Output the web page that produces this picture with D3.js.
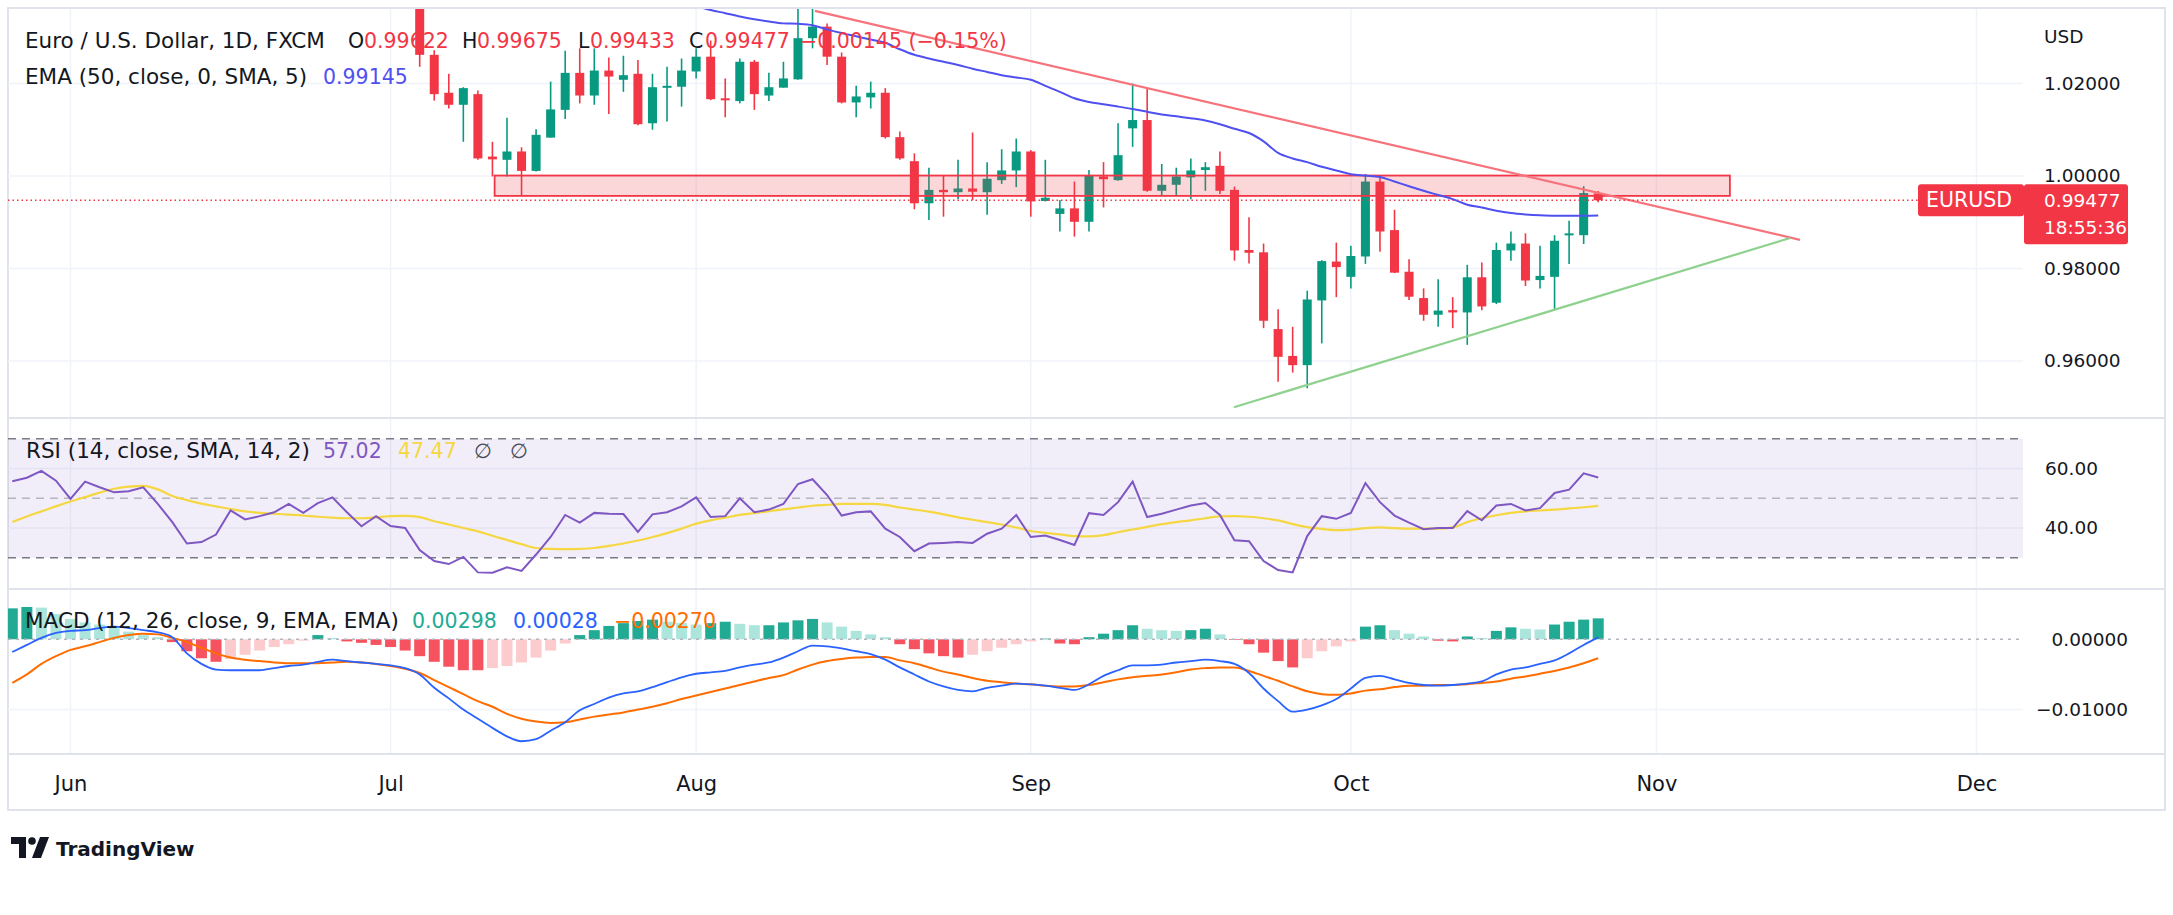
<!DOCTYPE html>
<html><head><meta charset="utf-8">
<script src="https://cdn.jsdelivr.net/npm/d3@7"></script>
<style>
html,body{margin:0;padding:0;background:#ffffff;}
svg{display:block;font-family:"DejaVu Sans",sans-serif;}
</style></head><body>
<svg id="chart" width="2173" height="915"></svg>
<script>
// ---------------- DATA ----------------
const monthLabels = ["Jun","Jul","Aug","Sep","Oct","Nov","Dec"];
const monthIndex  = [0,22,43,66,88,109,131];          // trading-day index of each month start (Jun 1 = 0)
const priceTicks  = [1.02,1.00,0.98,0.96];
const rsiTicks    = [60,40];
const rsiBands    = [70,50,30];
const macdTicks   = [0,-0.01];

const candleStart = 24; // Jul 5
const openP  = [1.0420,1.0262,1.0180,1.0154,1.0177,1.0042,1.0035,1.0053,1.0011,1.0083,1.0143,1.0223,1.0174,1.0228,1.0208,1.0221,1.0114,1.0192,1.0193,1.0226,
                1.0258,1.0168,1.0162,1.0247,1.0174,1.0191,1.0209,1.0298,1.0323,1.0258,1.0159,1.0170,1.0180,1.0084,1.0032,0.9941,0.9970,0.9965,0.9973,0.9965,
                0.9991,1.0012,1.0053,0.9946,0.9918,0.9930,0.9901,0.9999,0.9991,1.0103,1.0121,0.9968,0.9981,0.9997,1.0013,1.0022,0.9970,0.9840,0.9835,0.9669,
                0.9611,0.9591,0.9731,0.9815,0.9782,0.9826,0.9988,0.9883,0.9793,0.9736,0.9700,0.9710,0.9705,0.9781,0.9726,0.9839,0.9854,0.9775,0.9782,0.9872,
                0.9872,0.99622];
const highP  = [1.0444,1.0272,1.0221,1.0192,1.0185,1.0074,1.0126,1.0062,1.0101,1.0204,1.0271,1.0276,1.0276,1.0256,1.0260,1.0251,1.0221,1.0236,1.0254,1.0276,
                1.0293,1.0211,1.0254,1.0251,1.0223,1.0247,1.0368,1.0368,1.0330,1.0267,1.0195,1.0204,1.0190,1.0096,1.0049,1.0018,1.0000,1.0035,1.0094,1.0030,
                1.0058,1.0081,1.0056,1.0035,0.9948,0.9988,1.0013,1.0030,1.0114,1.0200,1.0190,1.0026,1.0018,1.0038,1.0030,1.0053,0.9977,0.9911,0.9854,0.9712,
                0.9674,0.9752,0.9818,0.9856,0.9849,1.0004,1.0002,0.9927,0.9820,0.9757,0.9777,0.9738,0.9808,0.9813,0.9856,0.9880,0.9876,0.9849,0.9872,0.9903,
                0.9978,0.99675];
const lowP   = [1.0236,1.0163,1.0146,1.0074,1.0035,0.9999,0.9999,0.9957,1.0010,1.0083,1.0123,1.0157,1.0154,1.0134,1.0182,1.0110,1.0100,1.0118,1.0150,1.0211,
                1.0164,1.0127,1.0157,1.0143,1.0162,1.0191,1.0208,1.0276,1.0240,1.0157,1.0127,1.0146,1.0081,1.0035,0.9928,0.9905,0.9912,0.9950,0.9948,0.9916,
                0.9983,0.9976,0.9912,0.9945,0.9880,0.9869,0.9880,0.9932,0.9990,1.0063,0.9966,0.9959,0.9959,0.9950,0.9968,0.9961,0.9817,0.9811,0.9671,0.9555,
                0.9575,0.9541,0.9638,0.9738,0.9757,0.9810,0.9836,0.9790,0.9732,0.9687,0.9674,0.9671,0.9635,0.9710,0.9723,0.9817,0.9762,0.9757,0.9712,0.9810,
                0.9853,0.99433];
const closeP = [1.0262,1.0177,1.0154,1.0190,1.0038,1.0036,1.0053,1.0011,1.0089,1.0144,1.0223,1.0174,1.0228,1.0215,1.0218,1.0112,1.0192,1.0195,1.0228,1.0258,
                1.0166,1.0164,1.0247,1.0177,1.0192,1.0211,1.0298,1.0323,1.0258,1.0159,1.0172,1.0180,1.0084,1.0038,0.9941,0.9970,0.9965,0.9973,0.9966,0.9994,
                1.0012,1.0053,0.9945,0.9953,0.9930,0.9901,1.0002,0.9993,1.0045,1.0121,0.9968,0.9981,0.9999,1.0012,1.0019,0.9968,0.9839,0.9834,0.9687,0.9609,
                0.9591,0.9733,0.9816,0.9803,0.9827,0.9988,0.9880,0.9791,0.9739,0.9700,0.9709,0.9705,0.9781,0.9718,0.9840,0.9854,0.9774,0.9784,0.9860,0.9876,
                0.9963,0.99477];

const emaStart = 42;
const ema50 = [1.0375,1.0367,1.0359,1.0352,1.0345,1.0339,1.0334,1.0330,1.0329,1.0326,1.0317,1.0309,1.0302,1.0295,1.0288,1.0274,1.0262,1.0254,1.0247,1.0240,
               1.0232,1.0225,1.0218,1.0213,1.0208,1.0195,1.0182,1.0168,1.0160,1.0155,1.0150,1.0145,1.0139,1.0133,1.0129,1.0125,1.0120,1.0112,1.0102,1.0093,
               1.0075,1.0050,1.0038,1.0030,1.0020,1.0012,1.0004,1.0001,0.9998,0.9988,0.9978,0.9968,0.9959,0.9950,0.9938,0.9932,0.9925,0.9920,0.9917,0.9915,
               0.9914,0.9914,0.9914,0.99145];

const zoneBox    = {i0:29.15, i1:114.05, top:1.0001, bottom:0.9957};
const resistance = [[51.16,1.0357],[118.87,0.9862]];
const support    = [[79.96,0.9500],[118.2,0.9866]];

const indStart = -4;
const rsi = [55.7,56.9,59.2,55.9,
  49.8,55.6,53.7,52.0,52.4,53.7,48.1,42.0,34.8,35.3,
  37.8,45.9,42.9,44.0,45.3,48.1,45.1,48.4,50.3,45.3,
  40.6,44.0,40.7,40.0,32.6,28.9,27.9,30.3,25.1,25.0,
  26.8,25.6,31.1,37.0,44.4,41.8,45.1,44.8,44.7,38.7,
  44.6,45.3,47.3,50.3,43.7,44.0,50.0,45.3,46.2,48.1,
  54.8,56.4,51.1,44.2,45.3,45.6,39.8,37.0,32.2,34.8,
  35.0,35.3,35.0,38.1,39.8,44.4,37.0,37.5,36.0,34.3,
  45.0,44.4,48.7,55.6,43.7,44.8,46.2,47.6,48.4,44.4,
  35.9,35.6,28.9,25.9,25.1,37.3,44.0,43.1,45.1,55.1,
  48.7,44.2,41.8,39.6,40.0,40.0,45.7,42.6,47.6,48.1,
  45.9,46.7,51.8,52.9,58.4,57.02];
const rsiSma = [42.0,43.9,45.6,47.3,
  48.9,50.4,51.9,53.2,53.9,54.2,53.0,50.8,49.4,48.2,
  47.3,46.4,45.6,45.1,44.8,44.5,44.2,43.8,43.5,43.3,
  43.3,43.6,44.0,44.1,43.7,42.3,41.2,40.0,38.9,37.4,
  36.0,34.6,33.3,33.0,32.9,33.0,33.3,34.0,34.8,35.8,
  37.0,38.3,39.8,41.5,42.6,43.5,44.4,45.0,45.7,46.3,
  46.9,47.5,47.8,48.1,48.1,48.1,47.8,46.9,46.2,45.5,
  44.6,43.6,42.8,42.0,41.2,40.2,39.0,38.4,37.9,37.3,
  37.2,37.6,38.6,39.5,40.4,41.3,42.0,42.6,43.3,43.9,
  44.0,43.8,43.3,42.6,41.3,40.3,39.7,39.3,39.5,40.0,
  40.2,40.0,39.8,39.8,39.8,40.2,42.0,43.3,44.3,45.1,
  45.6,45.9,46.2,46.6,47.0,47.47];
const macdLine = [-0.0018,-0.0008,0.0002,0.0009,
  0.0012,0.0013,0.0016,0.0018,0.0016,0.0013,0.0010,0.0003,-0.0020,-0.0035,
  -0.0043,-0.0044,-0.0044,-0.0044,-0.0041,-0.0038,-0.0036,-0.0032,-0.0029,-0.0031,
  -0.0033,-0.0035,-0.0037,-0.0041,-0.0050,-0.0069,-0.0084,-0.0100,-0.0113,-0.0126,
  -0.0138,-0.0145,-0.0142,-0.0130,-0.0118,-0.0101,-0.0092,-0.0083,-0.0077,-0.0074,
  -0.0068,-0.0061,-0.0054,-0.0049,-0.0047,-0.0045,-0.0040,-0.0036,-0.0033,-0.0026,
  -0.0017,-0.0009,-0.0010,-0.0013,-0.0017,-0.0021,-0.0029,-0.0040,-0.0050,-0.0060,
  -0.0067,-0.0072,-0.0074,-0.0069,-0.0066,-0.0063,-0.0064,-0.0066,-0.0069,-0.0072,
  -0.0064,-0.0052,-0.0044,-0.0037,-0.0037,-0.0036,-0.0033,-0.0031,-0.0029,-0.0031,
  -0.0035,-0.0048,-0.0070,-0.0088,-0.0103,-0.0100,-0.0094,-0.0085,-0.0070,-0.0055,
  -0.0052,-0.0057,-0.0062,-0.0065,-0.0066,-0.0065,-0.0063,-0.0060,-0.0050,-0.0043,
  -0.0040,-0.0035,-0.0030,-0.0020,-0.0008,0.00028];
const signalLine = [-0.0062,-0.0050,-0.0035,-0.0024,
  -0.0015,-0.0010,-0.0004,0.0002,0.0006,0.0008,0.0007,0.0002,-0.0004,-0.0012,
  -0.0020,-0.0026,-0.0029,-0.0031,-0.0033,-0.0034,-0.0034,-0.0034,-0.0033,-0.0032,
  -0.0033,-0.0035,-0.0038,-0.0042,-0.0048,-0.0058,-0.0068,-0.0078,-0.0088,-0.0096,
  -0.0106,-0.0113,-0.0117,-0.0119,-0.0118,-0.0114,-0.0110,-0.0107,-0.0104,-0.0100,
  -0.0096,-0.0091,-0.0085,-0.0080,-0.0075,-0.0070,-0.0065,-0.0060,-0.0055,-0.0051,
  -0.0043,-0.0036,-0.0031,-0.0028,-0.0026,-0.0025,-0.0025,-0.0030,-0.0034,-0.0040,
  -0.0046,-0.0050,-0.0055,-0.0059,-0.0061,-0.0063,-0.0064,-0.0066,-0.0067,-0.0067,
  -0.0065,-0.0061,-0.0057,-0.0054,-0.0052,-0.0050,-0.0047,-0.0043,-0.0041,-0.0040,
  -0.0040,-0.0045,-0.0052,-0.0059,-0.0067,-0.0074,-0.0078,-0.0079,-0.0077,-0.0073,
  -0.0071,-0.0068,-0.0066,-0.0066,-0.0065,-0.0065,-0.0064,-0.0062,-0.0060,-0.0056,
  -0.0053,-0.0049,-0.0045,-0.0040,-0.0034,-0.0027];
const histogram = [0.0044,0.0046,0.0045,0.0036,
  0.0029,0.0024,0.0021,0.0017,0.0011,0.0006,0.0003,-0.0004,-0.0017,-0.0027,
  -0.0032,-0.0028,-0.0022,-0.0016,-0.0011,-0.0007,-0.0002,0.0006,0.0002,-0.0003,
  -0.0005,-0.0008,-0.0011,-0.0016,-0.0024,-0.0032,-0.0039,-0.0044,-0.0044,-0.0041,
  -0.0038,-0.0033,-0.0026,-0.0016,-0.0006,0.0006,0.0013,0.0019,0.0023,0.0026,
  0.0028,0.0025,0.0023,0.0021,0.0023,0.0025,0.0022,0.0020,0.0020,0.0024,
  0.0027,0.0029,0.0024,0.0018,0.0012,0.0007,0.0003,-0.0007,-0.0014,-0.0020,
  -0.0024,-0.0026,-0.0022,-0.0017,-0.0012,-0.0007,-0.0003,0.0001,-0.0006,-0.0007,
  0.0003,0.0008,0.0013,0.0020,0.0015,0.0013,0.0012,0.0013,0.0015,0.0007,
  -0.0001,-0.0007,-0.0019,-0.0031,-0.0040,-0.0027,-0.0017,-0.0010,-0.0003,0.0018,
  0.0020,0.0013,0.0008,0.0004,-0.0002,-0.0003,0.0004,0.0002,0.0012,0.0017,
  0.0015,0.0014,0.0021,0.0025,0.0028,0.00298];

const legendMain = {title:"Euro / U.S. Dollar, 1D, FXCM", o:"0.99622", h:"0.99675", l:"0.99433", c:"0.99477", chg:"\u22120.00145 (\u22120.15%)"};
const legendEma  = {title:"EMA (50, close, 0, SMA, 5)", v:"0.99145"};
const legendRsi  = {title:"RSI (14, close, SMA, 14, 2)", v1:"57.02", v2:"47.47"};
const legendMacd = {title:"MACD (12, 26, close, 9, EMA, EMA)", h:"0.00298", m:"0.00028", s:"\u22120.00270"};
const tagSymbol = "EURUSD", tagPrice = "0.99477", tagTime = "18:55:36";

// ---------------- LAYOUT ----------------
const C = {up:"#089981", down:"#f23645", text:"#131722", grid:"#f0f3fa", frame:"#e0e3eb",
           ema:"#5050f0", rsi:"#7e57c2", rsiSma:"#f5d742", macd:"#2962ff", sig:"#ff6d00"};
const FS_T = 21.5, FS_V = 20.5, FS_AX = 18.5, FS_TIME = 21;
const plotL = 8, plotR = 2023, frameR = 2165, frameB = 810;
const P = {top:9, bottom:417}, R = {top:419, bottom:588}, M = {top:590, bottom:753};
const svg = d3.select("#chart");

const x  = d3.scaleLinear().domain([0,131]).range([70.5,1976.5]);
const yP = d3.scaleLinear().domain([0.96,1.02]).range([361,83.5]);
const yR = d3.scaleLinear().domain([30,70]).range([557.8,438.8]);
const yM = d3.scaleLinear().domain([-0.01,0]).range([709.6,639.3]);

const defs = svg.append("defs");
[["clipP",P],["clipR",R],["clipM",M]].forEach(([id,p])=>{
  defs.append("clipPath").attr("id",id).append("rect")
    .attr("x",plotL).attr("y",p.top).attr("width",plotR-plotL).attr("height",p.bottom-p.top);
});

// frame
const frame = svg.append("g").attr("stroke",C.frame).attr("stroke-width",2).attr("fill","none");
frame.append("rect").attr("x",8).attr("y",8).attr("width",frameR-8).attr("height",frameB-8);
[418,589,754].forEach(yy=>frame.append("line").attr("x1",8).attr("x2",frameR).attr("y1",yy).attr("y2",yy));

// grids
function vgrid(p){
  svg.append("g").selectAll("line").data(monthIndex).join("line")
    .attr("x1",d=>x(d)).attr("x2",d=>x(d)).attr("y1",p.top).attr("y2",p.bottom)
    .attr("stroke",C.grid).attr("stroke-width",1.5);
}
vgrid(P); vgrid(R); vgrid(M);
svg.append("g").selectAll("line").data(priceTicks).join("line")
  .attr("x1",plotL).attr("x2",plotR).attr("y1",d=>yP(d)).attr("y2",d=>yP(d))
  .attr("stroke",C.grid).attr("stroke-width",1.5);
svg.append("g").selectAll("line").data(rsiTicks).join("line")
  .attr("x1",plotL).attr("x2",plotR).attr("y1",d=>yR(d)).attr("y2",d=>yR(d))
  .attr("stroke",C.grid).attr("stroke-width",1.5);
svg.append("g").selectAll("line").data(macdTicks.filter(d=>d!==0)).join("line")
  .attr("x1",plotL).attr("x2",plotR).attr("y1",d=>yM(d)).attr("y2",d=>yM(d))
  .attr("stroke",C.grid).attr("stroke-width",1.5);

// ---------------- PRICE PANE ----------------
const gP = svg.append("g").attr("clip-path","url(#clipP)");
const candles = openP.map((o,k)=>({i:candleStart+k,o:o,h:highP[k],l:lowP[k],c:closeP[k]}));
const col = d=> d.c>=d.o ? C.up : C.down;
gP.append("g").selectAll("line").data(candles).join("line")
  .attr("x1",d=>x(d.i)).attr("x2",d=>x(d.i)).attr("y1",d=>yP(d.h)).attr("y2",d=>yP(d.l))
  .attr("stroke",col).attr("stroke-width",1.6);
gP.append("g").selectAll("rect").data(candles).join("rect")
  .attr("x",d=>x(d.i)-4.5).attr("width",9)
  .attr("y",d=>yP(Math.max(d.o,d.c)))
  .attr("height",d=>Math.max(2,Math.abs(yP(d.o)-yP(d.c))))
  .attr("fill",col);

// zone
gP.append("rect")
  .attr("x",x(zoneBox.i0)).attr("width",x(zoneBox.i1)-x(zoneBox.i0))
  .attr("y",yP(zoneBox.top)).attr("height",yP(zoneBox.bottom)-yP(zoneBox.top))
  .attr("fill","rgba(242,54,69,0.2)").attr("stroke","#f23645").attr("stroke-width",1.8);

// EMA
const emaPts = ema50.map((v,k)=>[emaStart+k,v]);
gP.append("path").datum(emaPts)
  .attr("d",d3.line().x(d=>x(d[0])).y(d=>yP(d[1])).curve(d3.curveMonotoneX))
  .attr("fill","none").attr("stroke",C.ema).attr("stroke-width",2);

// trendlines
const tl = d3.line().x(d=>x(d[0])).y(d=>yP(d[1]));
gP.append("path").datum(resistance).attr("d",tl).attr("stroke","#f7737c").attr("stroke-width",2.2).attr("fill","none");
gP.append("path").datum(support).attr("d",tl).attr("stroke","#8fd18f").attr("stroke-width",2.2).attr("fill","none");

// last price dotted line
const lastC = closeP[closeP.length-1];
svg.append("line").attr("x1",plotL).attr("x2",1920).attr("y1",yP(lastC)).attr("y2",yP(lastC))
  .attr("stroke","#f23645").attr("stroke-width",1.5).attr("stroke-dasharray","1.5,3");

// price axis
const axP = svg.append("g").attr("transform","translate(2044,0)")
  .call(d3.axisRight(yP).tickValues(priceTicks).tickFormat(d3.format(".5f")).tickSize(0).tickPadding(0));
axP.select(".domain").remove();
axP.selectAll("text").attr("font-size",FS_AX).attr("fill",C.text).attr("font-family","DejaVu Sans");
svg.append("text").attr("x",2044).attr("y",37).attr("dy","0.35em").attr("font-size",FS_AX).attr("fill",C.text).text("USD");

// tag
const ty = yP(lastC);
svg.append("rect").attr("x",1918).attr("y",ty-16).attr("width",106).attr("height",32).attr("rx",3).attr("fill","#f23645");
svg.append("rect").attr("x",2024).attr("y",ty-16).attr("width",104).attr("height",60).attr("rx",3).attr("fill","#f23645");
svg.append("text").attr("x",1926).attr("y",ty).attr("dy","0.35em").attr("font-size",FS_V).attr("fill","#fff").text(tagSymbol);
svg.append("text").attr("x",2044).attr("y",ty).attr("dy","0.35em").attr("font-size",FS_AX).attr("fill","#fff").text(tagPrice);
svg.append("text").attr("x",2044).attr("y",ty+27).attr("dy","0.35em").attr("font-size",FS_AX).attr("fill","#fff").text(tagTime);

// legends (price)
function tx(xp,yp,str,fill,fs){ return svg.append("text").attr("x",xp).attr("y",yp).attr("font-size",fs||FS_V).attr("fill",fill).text(str); }
tx(25,48,legendMain.title,C.text,FS_T);
tx(348,48,"O",C.text); tx(364,48,legendMain.o,C.down);
tx(462,48,"H",C.text); tx(477,48,legendMain.h,C.down);
tx(578,48,"L",C.text); tx(590,48,legendMain.l,C.down);
tx(689,48,"C",C.text); tx(705,48,legendMain.c,C.down);
tx(800,48,legendMain.chg,C.down);
tx(25,84,legendEma.title,C.text,FS_T); tx(323,84,legendEma.v,C.ema);

// ---------------- RSI PANE ----------------
const gR = svg.append("g").attr("clip-path","url(#clipR)");
gR.append("rect").attr("x",plotL).attr("width",plotR-plotL).attr("y",yR(70)).attr("height",yR(30)-yR(70))
  .attr("fill","rgba(126,87,194,0.1)");
gR.append("g").selectAll("line").data(rsiBands).join("line")
  .attr("x1",plotL).attr("x2",plotR).attr("y1",d=>yR(d)).attr("y2",d=>yR(d))
  .attr("stroke",d=>d===50?"rgba(120,123,134,0.5)":"#787b86").attr("stroke-width",1.5).attr("stroke-dasharray","8,6");
gR.append("path").datum(rsiSma.map((v,k)=>[indStart+k,v]))
  .attr("d",d3.line().x(d=>x(d[0])).y(d=>yR(d[1])).curve(d3.curveMonotoneX))
  .attr("fill","none").attr("stroke",C.rsiSma).attr("stroke-width",2.2);
gR.append("path").datum(rsi.map((v,k)=>[indStart+k,v]))
  .attr("d",d3.line().x(d=>x(d[0])).y(d=>yR(d[1])))
  .attr("fill","none").attr("stroke",C.rsi).attr("stroke-width",2);
const axR = svg.append("g").attr("transform","translate(2045,0)")
  .call(d3.axisRight(yR).tickValues(rsiTicks).tickFormat(d3.format(".2f")).tickSize(0).tickPadding(0));
axR.select(".domain").remove();
axR.selectAll("text").attr("font-size",FS_AX).attr("fill",C.text).attr("font-family","DejaVu Sans");
tx(26,458,legendRsi.title,C.text,FS_T); tx(323,458,legendRsi.v1,C.rsi); tx(398,458,legendRsi.v2,C.rsiSma);
tx(474,458,"\u2205","#4a4d57"); tx(510,458,"\u2205","#4a4d57");

// ---------------- MACD PANE ----------------
const gM = svg.append("g").attr("clip-path","url(#clipM)");
const hd = histogram.map((v,k)=>({i:indStart+k,v:v,p:k>0?histogram[k-1]:undefined}));
const hcol = d=> d.v>=0 ? ((d.p===undefined||d.v>=d.p)?"#22ab94":"#ace5dc") : ((d.p!==undefined&&d.v>d.p)?"#fccbcd":"#f7525f");
gM.append("g").selectAll("rect").data(hd).join("rect")
  .attr("x",d=>x(d.i)-5.5).attr("width",11)
  .attr("y",d=>Math.min(yM(d.v),yM(0))).attr("height",d=>Math.abs(yM(d.v)-yM(0)))
  .attr("fill",hcol);
gM.append("line").attr("x1",plotL).attr("x2",plotR).attr("y1",yM(0)).attr("y2",yM(0))
  .attr("stroke","#b2b5be").attr("stroke-width",1.5).attr("stroke-dasharray","3,5");
const ml = d3.line().x(d=>x(d[0])).y(d=>yM(d[1])).curve(d3.curveMonotoneX);
gM.append("path").datum(signalLine.map((v,k)=>[indStart+k,v])).attr("d",ml)
  .attr("fill","none").attr("stroke",C.sig).attr("stroke-width",2);
gM.append("path").datum(macdLine.map((v,k)=>[indStart+k,v])).attr("d",ml)
  .attr("fill","none").attr("stroke",C.macd).attr("stroke-width",1.8);
const axM = svg.append("g").attr("transform","translate(2128,0)")
  .call(d3.axisRight(yM).tickValues(macdTicks).tickFormat(d3.format(".5f")).tickSize(0).tickPadding(0));
axM.select(".domain").remove();
axM.selectAll("text").attr("font-size",FS_AX).attr("fill",C.text).attr("font-family","DejaVu Sans").attr("text-anchor","end");
tx(25,628,legendMacd.title,C.text,FS_T); tx(412,628,legendMacd.h,"#22ab94"); tx(513,628,legendMacd.m,C.macd); tx(614,628,legendMacd.s,C.sig);

// ---------------- TIME AXIS ----------------
const axT = svg.append("g").attr("transform","translate(0,776)")
  .call(d3.axisBottom(x).tickValues(monthIndex).tickFormat((d,k)=>monthLabels[k]).tickSize(0).tickPadding(0));
axT.select(".domain").remove();
axT.selectAll("text").attr("font-size",FS_TIME).attr("fill",C.text).attr("font-family","DejaVu Sans");

// ---------------- LOGO ----------------
const logo = svg.append("g").attr("transform","translate(11,837)").attr("fill",C.text);
logo.append("path").attr("d","M0 0 H15 V21 H8 V7 H0 Z");
logo.append("circle").attr("cx",21).attr("cy",4).attr("r",3.8);
logo.append("path").attr("d","M29 0 H38 L30 21 H21 Z");
svg.append("text").attr("x",56).attr("y",856).attr("font-size",20).attr("font-weight","bold").attr("fill",C.text).text("TradingView");
</script>
</body></html>
